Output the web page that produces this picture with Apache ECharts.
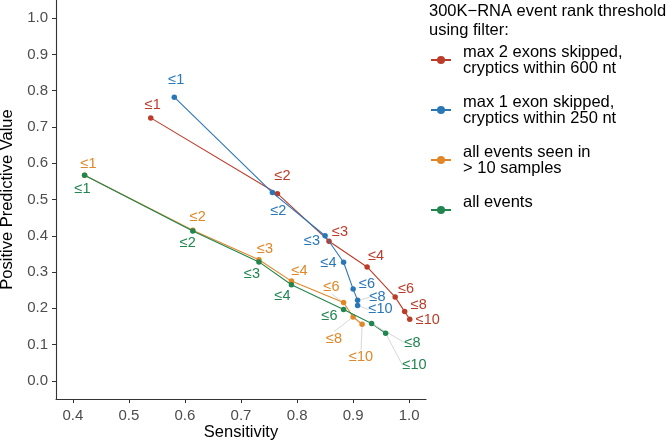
<!DOCTYPE html>
<html>
<head>
<meta charset="utf-8">
<script src="https://cdn.jsdelivr.net/npm/echarts@6/dist/echarts.min.js"></script>
<style>html,body{margin:0;padding:0;background:#fff;}#c{width:667px;height:442px;}</style>
</head>
<body>
<div id="c"></div>
<script>
// ---- data ----
const thresholds = [1, 2, 3, 4, 6, 8, 10];
const seriesNames = [
  'max 2 exons skipped,\ncryptics within 600 nt',
  'max 1 exon skipped,\ncryptics within 250 nt',
  'all events seen in\n> 10 samples',
  'all events\n '
];
const sensMax2 = [0.539, 0.765, 0.857, 0.925, 0.975, 0.992, 1.001];
const ppvMax2  = [0.725, 0.516, 0.385, 0.314, 0.231, 0.191, 0.170];
const sensMax1 = [0.581, 0.756, 0.850, 0.883, 0.900, 0.908, 0.908];
const ppvMax1  = [0.782, 0.519, 0.400, 0.327, 0.253, 0.222, 0.208];
const sensSeen = [0.421, 0.614, 0.732, 0.790, 0.883, 0.900, 0.916];
const ppvSeen  = [0.567, 0.415, 0.334, 0.275, 0.216, 0.176, 0.156];
const sensAll  = [0.421, 0.614, 0.732, 0.790, 0.883, 0.933, 0.958];
const ppvAll   = [0.567, 0.413, 0.328, 0.265, 0.197, 0.158, 0.131];
const xTicks = [0.4, 0.5, 0.6, 0.7, 0.8, 0.9, 1.0];
const yTicks = [0.0, 0.1, 0.2, 0.3, 0.4, 0.5, 0.6, 0.7, 0.8, 0.9, 1.0];

// ---- styling / layout ----
const colors = ['#BC3C29', '#2A77B8', '#E18727', '#20854E'];
// label offsets (px) from each point, like ggrepel placement
const labelOffsets = [
  [[2,-13],[5,-18],[11,-9],[9,-11],[11,-8],[14,-7],[18,1]],
  [[2,-17],[6,18],[-13,5],[-15,1],[14,-5],[20,-3],[23,4]],
  [[4,-11],[5,-13],[6,-11],[8,-10],[-12,-16],[-19,22],[-1,33]],
  [[-2,14],[-5,12],[-7,12],[-9,11],[-14,7],[41,19],[29,32]]
];
const leaderIdx = [[], [5,6], [4,5,6], [5,6]];

const sens = [sensMax2, sensMax1, sensSeen, sensAll];
const ppv = [ppvMax2, ppvMax1, ppvSeen, ppvAll];
const FONT = 'Liberation Sans';

const series = seriesNames.map((name, s) => ({
  name: name,
  type: 'line',
  symbol: 'circle',
  symbolSize: 5.5,
  z: 2 + s,
  lineStyle: { color: colors[s], width: 1.1 },
  itemStyle: { color: colors[s] },
  emphasis: { disabled: true },
  data: sens[s].map((x, i) => {
    const item = { value: [x, ppv[s][i]] };
    if (leaderIdx[s].indexOf(i) >= 0) item.labelLine = { show: true };
    return item;
  }),
  label: {
    show: true,
    position: 'inside',
    formatter: p => '\u2264' + thresholds[p.dataIndex],
    color: colors[s],
    fontFamily: FONT,
    fontSize: 14.5
  },
  labelLine: { show: false, lineStyle: { color: '#d2d2d2', width: 0.9 } },
  labelLayout: p => ({ dx: labelOffsets[s][p.dataIndex][0], dy: labelOffsets[s][p.dataIndex][1] })
}));

const axisCommon = {
  type: 'value',
  axisLine: { show: true, onZero: false, lineStyle: { color: '#333', width: 1.1 } },
  axisTick: { show: true, length: 4, lineStyle: { color: '#333' } },
  splitLine: { show: false },
  nameLocation: 'middle',
  nameMoveOverlap: false,
  nameTextStyle: { fontFamily: FONT, fontSize: 16.5, color: '#000' }
};

const chart = echarts.init(document.getElementById('c'), null, { renderer: 'canvas' });
chart.setOption({
  backgroundColor: '#fff',
  animation: false,
  color: colors,
  title: {
    text: '300K\u2212RNA event rank threshold\nusing filter:',
    left: 429, top: 2, padding: 0,
    textStyle: { fontFamily: FONT, fontSize: 16.5, fontWeight: 'normal', color: '#000', lineHeight: 19 }
  },
  legend: {
    orient: 'vertical',
    left: 430, top: 36,
    padding: 0,
    itemGap: 2,
    itemWidth: 20,
    itemHeight: 10,
    selectedMode: false,
    textStyle: { fontFamily: FONT, fontSize: 16.5, color: '#000', lineHeight: 16, padding: [16, 0, 0, 7] },
    data: seriesNames
  },
  grid: { left: 56, right: 241, top: 0, bottom: 43, containLabel: false, outerBoundsMode: 'none' },
  xAxis: Object.assign({}, axisCommon, {
    min: 0.37, max: 1.03,
    name: 'Sensitivity', nameGap: 25,
    axisTick: Object.assign({}, axisCommon.axisTick, { customValues: xTicks }),
    axisLabel: { customValues: xTicks, formatter: v => v.toFixed(1), fontFamily: FONT, fontSize: 15, color: '#4D4D4D', margin: 9 }
  }),
  yAxis: Object.assign({}, axisCommon, {
    min: -0.05, max: 1.05,
    name: 'Positive Predictive Value', nameGap: 40,
    axisTick: Object.assign({}, axisCommon.axisTick, { customValues: yTicks }),
    axisLabel: { customValues: yTicks, formatter: v => v.toFixed(1), fontFamily: FONT, fontSize: 15, color: '#4D4D4D', margin: 8 }
  }),
  series: series
});
</script>
</body>
</html>
